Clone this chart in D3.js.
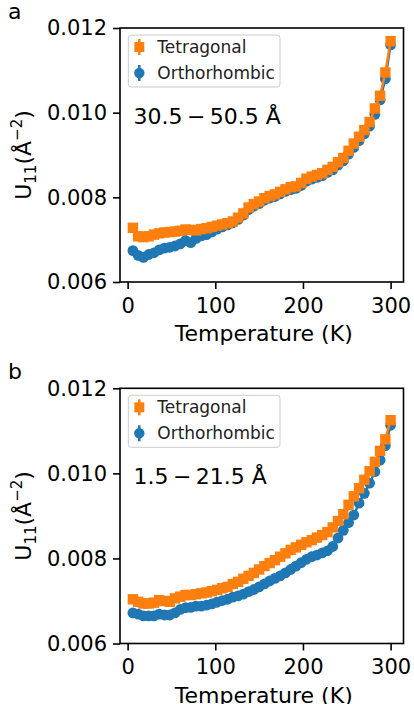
<!DOCTYPE html>
<html>
<head>
<meta charset="utf-8">
<script src="https://cdn.jsdelivr.net/npm/d3@7"></script>
<style>
  html, body { margin: 0; padding: 0; background: #fff; }
  svg { display: block; font-family: "DejaVu Sans", sans-serif; }
</style>
</head>
<body>
<svg id="chart" width="414" height="704"></svg>
<script>
// ---- data ----
const temperatures = [6,12,18,24,30,36,42,48,54,60,66,72,78,84,90,96,102,108,114,120,
  126,132,138,144,150,156,162,168,174,180,186,192,198,204,210,216,222,228,234,240,
  246,252,258,264,270,276,282,288,294,300];

const tetragonalA = [0.00728,0.00708,0.00706,0.00708,0.00712,0.00715,0.00717,0.00718,0.00719,0.00721,
  0.00724,0.00723,0.00722,0.00725,0.00727,0.00730,0.00733,0.00736,0.00739,0.00743,
  0.00752,0.00762,0.00776,0.00784,0.00790,0.00798,0.00803,0.00807,0.00813,0.00819,
  0.00824,0.00826,0.00834,0.00844,0.00849,0.00853,0.00857,0.00865,0.00872,0.00883,
  0.00893,0.00910,0.00927,0.00943,0.00959,0.00978,0.01010,0.01040,0.01095,0.01169];

const orthorhombicA = [0.00674,0.00663,0.00658,0.00665,0.00669,0.00676,0.00680,0.00682,0.00685,0.00690,
  0.00698,0.00693,0.00703,0.00709,0.00712,0.00718,0.00725,0.00730,0.00735,0.00740,
  0.00748,0.00758,0.00771,0.00779,0.00785,0.00793,0.00798,0.00802,0.00808,0.00814,
  0.00818,0.00821,0.00828,0.00838,0.00843,0.00847,0.00851,0.00859,0.00865,0.00876,
  0.00886,0.00902,0.00918,0.00934,0.00950,0.00968,0.00996,0.01030,0.01080,0.01160];

const tetragonalB = [0.00704,0.00698,0.00694,0.00694,0.00696,0.00702,0.00700,0.00698,0.00706,0.00710,
  0.00714,0.00714,0.00716,0.00718,0.00720,0.00723,0.00726,0.00730,0.00733,0.00740,
  0.00745,0.00752,0.00759,0.00766,0.00774,0.00782,0.00789,0.00796,0.00804,0.00812,
  0.00820,0.00826,0.00832,0.00838,0.00843,0.00849,0.00855,0.00862,0.00873,0.00888,
  0.00904,0.00926,0.00946,0.00965,0.00985,0.01005,0.01027,0.01053,0.01080,0.01125];

const orthorhombicB = [0.00672,0.00669,0.00665,0.00665,0.00665,0.00669,0.00667,0.00667,0.00672,0.00680,
  0.00684,0.00685,0.00688,0.00688,0.00690,0.00693,0.00697,0.00701,0.00704,0.00709,
  0.00712,0.00716,0.00722,0.00727,0.00733,0.00740,0.00747,0.00753,0.00759,0.00766,
  0.00774,0.00782,0.00790,0.00798,0.00804,0.00808,0.00813,0.00818,0.00828,0.00848,
  0.00866,0.00884,0.00902,0.00930,0.00953,0.00977,0.01004,0.01031,0.01065,0.01113];

const xTicks = [0, 100, 200, 300];
const yTicks = [0.006, 0.008, 0.010, 0.012];
const seriesNames = ["Tetragonal", "Orthorhombic"];
const panelLetters = ["a", "b"];
const rangeLabels = ["30.5\u2009\u2212\u200950.5 \u00C5", "1.5\u2009\u2212\u200921.5 \u00C5"];
const xLabel = "Temperature (K)";

// ---- styling ----
const ORANGE = "#ff7f0e", BLUE = "#1f77b4";
const svg = d3.select("#chart");

const panels = [
  { letter: panelLetters[0], label: rangeLabels[0], tet: tetragonalA, ort: orthorhombicA, top: 28, bottom: 282 },
  { letter: panelLetters[1], label: rangeLabels[1], tet: tetragonalB, ort: orthorhombicB, top: 388.3, bottom: 643.5 }
];

const left = 120, right = 403.5;
const x = d3.scaleLinear().domain([-8.7, 314.7]).range([left, right]);

panels.forEach((p) => {
  const y = d3.scaleLinear().domain([0.006, 0.012]).range([p.bottom, p.top]);
  const g = svg.append("g");

  // axes
  const ax = g.append("g").attr("transform", `translate(0,${p.bottom})`)
    .call(d3.axisBottom(x).tickValues(xTicks).tickSize(7).tickPadding(5).tickFormat(d3.format("d")));
  const ay = g.append("g").attr("transform", `translate(${left},0)`)
    .call(d3.axisLeft(y).tickValues(yTicks).tickSize(7).tickPadding(6).tickFormat(d3.format(".3f")));
  [ax, ay].forEach(a => {
    a.select(".domain").remove();
    a.selectAll(".tick line").attr("stroke", "#000").attr("stroke-width", 1.6);
    a.selectAll(".tick text").attr("fill", "#000").style("font-size", "21px")
      .style("font-family", "DejaVu Sans, sans-serif");
  });
  ax.selectAll(".tick text").attr("dy", "0.9em");

  // data: orthorhombic under tetragonal
  const line = (vals) => d3.line().x((d, i) => x(temperatures[i])).y(d => y(d))(vals);
  g.append("path").attr("d", line(p.ort)).attr("fill", "none").attr("stroke", BLUE).attr("stroke-width", 2.5);
  g.selectAll(".ort").data(p.ort).enter().append("circle")
    .attr("cx", (d, i) => x(temperatures[i])).attr("cy", d => y(d)).attr("r", 5.4).attr("fill", BLUE);

  g.append("path").attr("d", line(p.tet)).attr("fill", "none").attr("stroke", ORANGE).attr("stroke-width", 2.5);
  const s = 10.4;
  g.selectAll(".tet").data(p.tet).enter().append("rect")
    .attr("x", (d, i) => x(temperatures[i]) - s / 2).attr("y", d => y(d) - s / 2)
    .attr("width", s).attr("height", s).attr("fill", ORANGE);

  // frame
  g.append("rect").attr("x", left).attr("y", p.top).attr("width", right - left).attr("height", p.bottom - p.top)
    .attr("fill", "none").attr("stroke", "#000").attr("stroke-width", 1.6);

  // legend
  const lg = g.append("g").attr("transform", `translate(128.3,${p.top + 7})`);
  lg.append("rect").attr("x", 0).attr("y", 0).attr("width", 151.7).attr("height", 52)
    .attr("rx", 3).attr("fill", "#fff").attr("fill-opacity", 0.8).attr("stroke", "#cccccc").attr("stroke-width", 1);
  const items = [{ name: seriesNames[0], c: ORANGE, shape: "sq" }, { name: seriesNames[1], c: BLUE, shape: "ci" }];
  items.forEach((it, k) => {
    const cy = 12 + k * 26;
    lg.append("line").attr("x1", 11).attr("x2", 11).attr("y1", cy - 8).attr("y2", cy + 8)
      .attr("stroke", it.c).attr("stroke-width", 2.5);
    if (it.shape === "sq") {
      lg.append("rect").attr("x", 11 - 5).attr("y", cy - 5).attr("width", 10).attr("height", 10).attr("fill", it.c);
    } else {
      lg.append("circle").attr("cx", 11).attr("cy", cy).attr("r", 5.2).attr("fill", it.c);
    }
    lg.append("text").attr("x", 29).attr("y", cy).attr("dy", "0.36em")
      .style("font-size", "17px").attr("fill", "#222").text(it.name);
  });

  // range annotation
  g.append("text").attr("x", 133.5).attr("y", p.top + 96)
    .style("font-size", "22px").attr("fill", "#000").text(p.label);

  // panel letter
  g.append("text").attr("x", 8).attr("y", p.top - 9).style("font-size", "22px").attr("fill", "#000").text(p.letter);

  // x label
  g.append("text").attr("x", (x(-8.7) + x(314.7)) / 2 + 2).attr("y", p.bottom + 59)
    .attr("text-anchor", "middle").style("font-size", "22px").attr("fill", "#000").text(xLabel);

  // y label
  const yl = g.append("text").attr("transform", `translate(31,${(p.top + p.bottom) / 2}) rotate(-90)`)
    .attr("text-anchor", "middle").style("font-size", "22px").attr("fill", "#000");
  yl.append("tspan").text("U");
  yl.append("tspan").attr("dy", 5).style("font-size", "15px").text("11");
  yl.append("tspan").attr("dy", -5).text("(\u00C5");
  yl.append("tspan").attr("dy", -9).style("font-size", "15px").text("\u22122");
  yl.append("tspan").attr("dy", 9).text(")");
});
</script>
</body>
</html>
